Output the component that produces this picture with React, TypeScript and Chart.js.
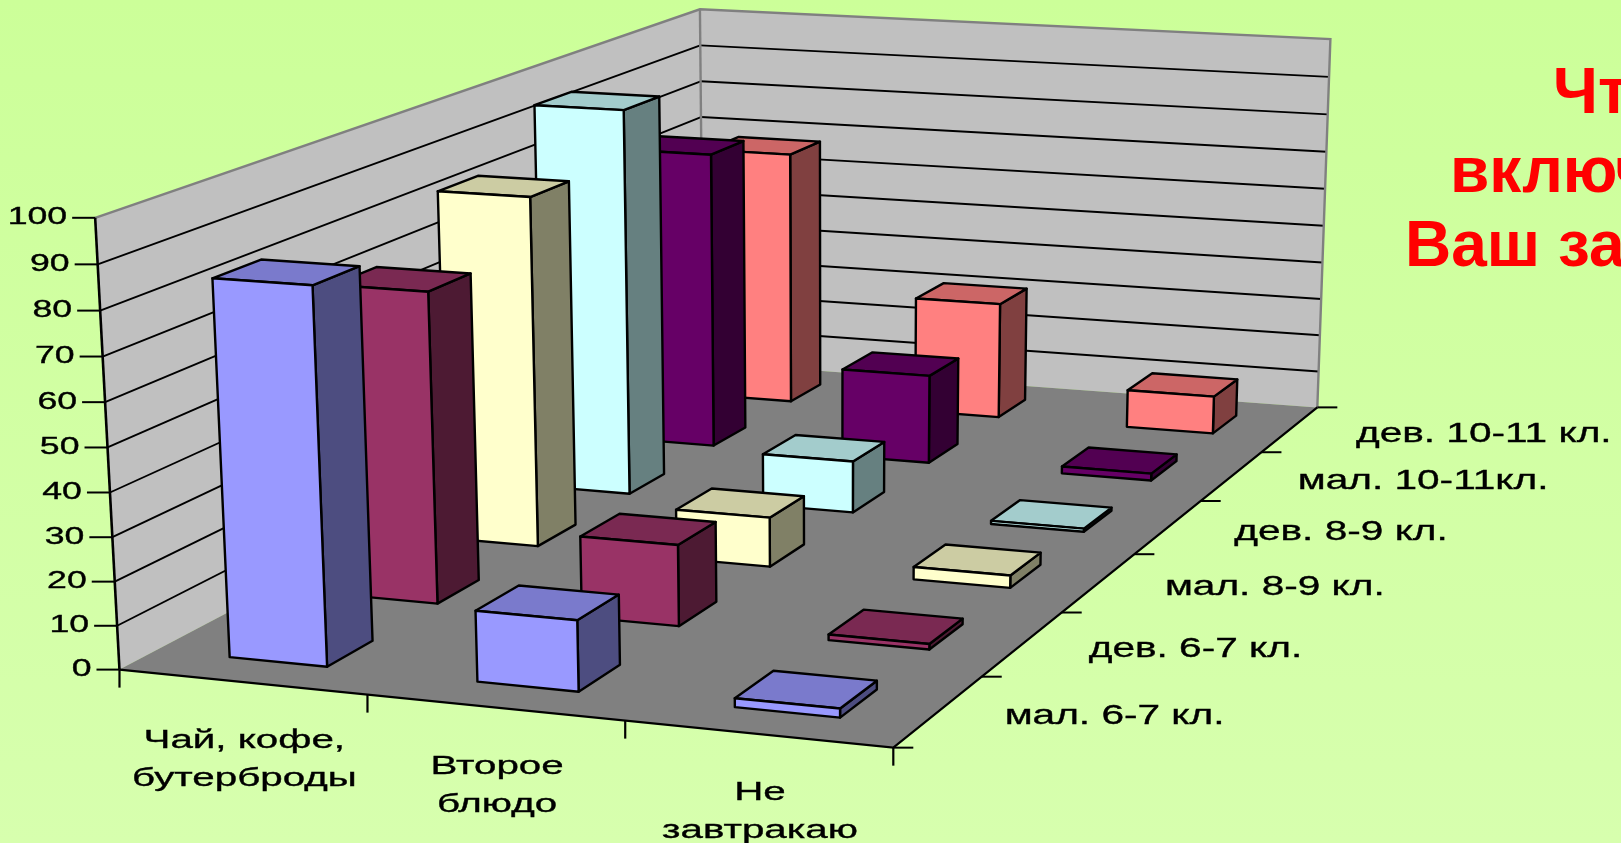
import React, { useEffect, useRef } from "react";
import { Chart, registerables } from "chart.js";

Chart.register(...registerables);

// Meal groups along the front edge of the floor (each entry is one label, split in lines).
const mealLines: string[][] = [
  ["Чай, кофе,", "бутерброды"],
  ["Второе", "блюдо"],
  ["Не", "завтракаю"],
];
const meals = mealLines.map((l) => l.join(" "));

// Pupil groups along the depth of the floor, front row first.
const groups = [
  "мал. 6-7 кл.",
  "дев. 6-7 кл.",
  "мал. 8-9 кл.",
  "дев. 8-9 кл.",
  "мал. 10-11кл.",
  "дев. 10-11 кл.",
];

const boys67 = [85, 16, 2];
const girls67 = [73, 19, 1.3];
const boys89 = [85, 12, 3];
const girls89 = [97, 13, 0.8];
const boys1011 = [77, 23, 1.8];
const girls1011 = [68, 31, 10];
const rows = [boys67, girls67, boys89, girls89, boys1011, girls1011];

// Front, top and right face colours for each row.
const frontColors = ["#9999FF", "#993366", "#FFFFCC", "#CCFFFF", "#660066", "#FF8080"];
const topColors = ["#7A7ACC", "#7A2952", "#CCCCA3", "#A3CCCC", "#520052", "#CC6666"];
const sideColors = ["#4D4D80", "#4D1A33", "#808066", "#668080", "#330033", "#804040"];

const titleLines = ["Что", "включает", "Ваш завтрак"];

const W = 1621;
const H = 843;
const DEPTH_FILL = 0.4;

type V3 = [number, number, number];
type V2 = [number, number];

// Camera anchors of the plot box: unit cube corner -> canvas position.
const anchors: [V3, V2][] = [
  [[0, 0, 0], [118, 671]],
  [[1, 0, 0], [893, 747]],
  [[1, 1, 0], [1316, 408]],
  [[0, 1, 0], [706, 361]],
  [[0, 0, 1], [97, 217]],
  [[0, 1, 1], [697, 10]],
  [[1, 1, 1], [1332, 39]],
];

// Least-squares fit of a projective camera through the anchors.
function fitCamera(points: [V3, V2][]): number[] {
  const n = 11;
  const A: number[][] = Array.from({ length: n }, () => new Array(n + 1).fill(0));
  const addRow = (r: number[], t: number) => {
    for (let i = 0; i < n; i++) {
      for (let j = 0; j < n; j++) A[i][j] += r[i] * r[j];
      A[i][n] += r[i] * t;
    }
  };
  for (const [[X, Y, Z], [px, py]] of points) {
    const x = px / 1000;
    const y = py / 1000;
    addRow([X, Y, Z, 1, 0, 0, 0, 0, -x * X, -x * Y, -x * Z], x);
    addRow([0, 0, 0, 0, X, Y, Z, 1, -y * X, -y * Y, -y * Z], y);
  }
  for (let c = 0; c < n; c++) {
    let best = c;
    for (let r = c + 1; r < n; r++) if (Math.abs(A[r][c]) > Math.abs(A[best][c])) best = r;
    [A[c], A[best]] = [A[best], A[c]];
    for (let r = 0; r < n; r++) {
      if (r === c) continue;
      const f = A[r][c] / A[c][c];
      for (let k = c; k <= n; k++) A[r][k] -= f * A[c][k];
    }
  }
  return A.map((row, i) => row[n] / row[i]);
}

const cam = fitCamera(anchors);

function project(u: number, v: number, w: number): V2 {
  const d = cam[8] * u + cam[9] * v + cam[10] * w + 1;
  return [
    (1000 * (cam[0] * u + cam[1] * v + cam[2] * w + cam[3])) / d,
    (1000 * (cam[4] * u + cam[5] * v + cam[6] * w + cam[7])) / d,
  ];
}

function poly(ctx: CanvasRenderingContext2D, pts: V2[], fill: string | null, stroke: string | null, lw = 2.4) {
  ctx.beginPath();
  pts.forEach((p, i) => (i ? ctx.lineTo(p[0], p[1]) : ctx.moveTo(p[0], p[1])));
  ctx.closePath();
  if (fill) {
    ctx.fillStyle = fill;
    ctx.fill();
  }
  if (stroke) {
    ctx.strokeStyle = stroke;
    ctx.lineWidth = lw;
    ctx.lineJoin = "round";
    ctx.stroke();
  }
}

function line(ctx: CanvasRenderingContext2D, pts: V2[], color: string, lw: number) {
  ctx.beginPath();
  pts.forEach((p, i) => (i ? ctx.lineTo(p[0], p[1]) : ctx.moveTo(p[0], p[1])));
  ctx.strokeStyle = color;
  ctx.lineWidth = lw;
  ctx.stroke();
}

// Axis text in the wide, stretched face used on this slide.
function wideText(
  ctx: CanvasRenderingContext2D,
  text: string,
  x: number,
  y: number,
  size: number,
  stretch: number,
  align: "left" | "right" | "center"
) {
  ctx.save();
  ctx.font = `${size}px "Liberation Sans"`;
  ctx.fillStyle = "#000";
  ctx.strokeStyle = "#000";
  ctx.lineWidth = 0.35;
  ctx.textBaseline = "middle";
  ctx.textAlign = align;
  ctx.translate(x, y);
  ctx.scale(stretch, 1);
  ctx.fillText(text, 0, 0);
  ctx.strokeText(text, 0, 0);
  ctx.restore();
}

// Normalised position along the width or height of the plot area.
const uOf = (chart: any, px: number) => (px - chart.chartArea.left) / chart.chartArea.width;
const wOf = (chart: any, py: number) => (chart.chartArea.bottom - py) / chart.chartArea.height;

const scene = {
  id: "scene",
  beforeDraw(chart: any) {
    const { ctx } = chart;
    const g = ctx.createLinearGradient(0, 0, 0, H);
    g.addColorStop(0, "#CCFF99");
    g.addColorStop(1, "#D7FFAE");
    ctx.fillStyle = g;
    ctx.fillRect(0, 0, W, H);
  },
  beforeDatasetsDraw(chart: any) {
    const { ctx } = chart;
    const yScale = chart.scales.y;
    const xScale = chart.scales.x;
    const zScale = chart.scales.depth;

    // Walls and floor.
    poly(ctx, [project(0, 0, 0), project(0, 1, 0), project(0, 1, 1), project(0, 0, 1)], "#C0C0C0", null);
    poly(ctx, [project(0, 1, 0), project(1, 1, 0), project(1, 1, 1), project(0, 1, 1)], "#C0C0C0", null);
    poly(ctx, [project(0, 0, 0), project(1, 0, 0), project(1, 1, 0), project(0, 1, 0)], "#808080", null);

    // Grid lines on both walls, taken from the value ticks.
    yScale.ticks.forEach((t: any) => {
      if (t.value === 0 || t.value === yScale.max) return;
      const w = wOf(chart, yScale.getPixelForValue(t.value));
      line(ctx, [project(0, 0, w), project(0, 1, w)], "#000", 1.9);
      line(ctx, [project(0, 1, w), project(1, 1, w)], "#000", 1.9);
    });

    // Wall outlines.
    line(ctx, [project(0, 0, 1), project(0, 1, 1), project(1, 1, 1), project(1, 1, 0)], "#808080", 2.4);
    line(ctx, [project(0, 1, 0), project(0, 1, 1)], "#808080", 2.4);

    // Value axis with ticks and labels.
    line(ctx, [project(0, 0, 1), project(0, 0, 0)], "#000", 2.6);
    yScale.ticks.forEach((t: any) => {
      const w = wOf(chart, yScale.getPixelForValue(t.value));
      const [x, y] = project(0, 0, w);
      line(ctx, [[x - 23, y], [x, y]], "#000", 2);
      wideText(ctx, String(t.value), x - 28, y, 23, 1.55, "right");
    });

    // Front edge with meal ticks and labels.
    line(ctx, [project(0, 0, 0), project(1, 0, 0), project(1, 1, 0)], "#000", 2.2);
    const cats = xScale.ticks.length;
    for (let i = 0; i <= cats; i++) {
      const [x, y] = project(i / cats, 0, 0);
      line(ctx, [[x, y], [x, y + 18]], "#000", 2.2);
    }
    mealLines.forEach((lines, i) => {
      const u = uOf(chart, xScale.getPixelForValue(i));
      const [x, y] = project(u, 0, 0);
      lines.forEach((text, k) => wideText(ctx, text, x + 2, y + 59 + k * 38, 26, 1.55, "center"));
    });

    // Right edge with group ticks and labels.
    const depthCount = groups.length;
    for (let k = 0; k <= depthCount; k++) {
      const [x, y] = project(1, k / depthCount, 0);
      line(ctx, [[x, y], [x + 20, y]], "#000", 2);
    }
    groups.forEach((g, k) => {
      const v = uOf(chart, zScale.getPixelForValue(k));
      const [x, y] = project(1, v, 0);
      wideText(ctx, g, x + 66, y + 5, 28, 1.45, "left");
    });

    // Slide heading, running off the right edge of the slide.
    ctx.save();
    ctx.font = 'bold 64px "Liberation Sans"';
    ctx.fillStyle = "#FF0000";
    ctx.textAlign = "left";
    ctx.textBaseline = "alphabetic";
    ctx.fillText(titleLines[0], 1553, 113);
    ctx.fillText(titleLines[1], 1450, 192);
    ctx.fillText(titleLines[2], 1405, 266);
    ctx.restore();
  },
  // Each bar element is drawn as a box in the camera space.
  beforeDatasetDraw(chart: any, args: any) {
    const { ctx } = chart;
    const row: number = args.index;
    const zScale = chart.scales.depth;
    const v = uOf(chart, zScale.getPixelForValue(row));
    const dv = DEPTH_FILL / groups.length / 2;
    args.meta.data.forEach((el: any) => {
      const u = uOf(chart, el.x);
      const du = el.width / chart.chartArea.width / 2;
      const w = wOf(chart, el.y);
      const u0 = u - du;
      const u1 = u + du;
      const v0 = v - dv;
      const v1 = v + dv;
      poly(ctx, [project(u1, v0, 0), project(u1, v1, 0), project(u1, v1, w), project(u1, v0, w)], sideColors[row], "#000");
      poly(ctx, [project(u0, v0, w), project(u1, v0, w), project(u1, v1, w), project(u0, v1, w)], topColors[row], "#000");
      poly(ctx, [project(u0, v0, 0), project(u1, v0, 0), project(u1, v0, w), project(u0, v0, w)], frontColors[row], "#000");
    });
    return false;
  },
};

export default function App() {
  const ref = useRef<HTMLCanvasElement>(null);
  useEffect(() => {
    const chart = new Chart(ref.current as HTMLCanvasElement, {
      type: "bar",
      data: {
        labels: meals,
        datasets: rows.map((data, i) => ({
          label: groups[i],
          data,
          grouped: false,
          barPercentage: 0.585,
          categoryPercentage: 0.68,
          backgroundColor: frontColors[i],
        })),
      },
      options: {
        responsive: false,
        animation: false,
        layout: { padding: 0 },
        plugins: { legend: { display: false }, title: { display: false }, tooltip: { enabled: false } },
        scales: {
          x: { type: "category", offset: true, display: false },
          y: { type: "linear", min: 0, max: 100, ticks: { stepSize: 10 }, display: false },
          depth: { type: "category", axis: "x", labels: groups, offset: true, display: false },
        },
      } as any,
      plugins: [scene],
    } as any);
    return () => chart.destroy();
  }, []);
  return (
    <div style={{ position: "fixed", left: 0, top: 0, width: W, height: H, overflow: "hidden" }}>
      <canvas ref={ref} width={W} height={H} style={{ display: "block" }} />
    </div>
  );
}
